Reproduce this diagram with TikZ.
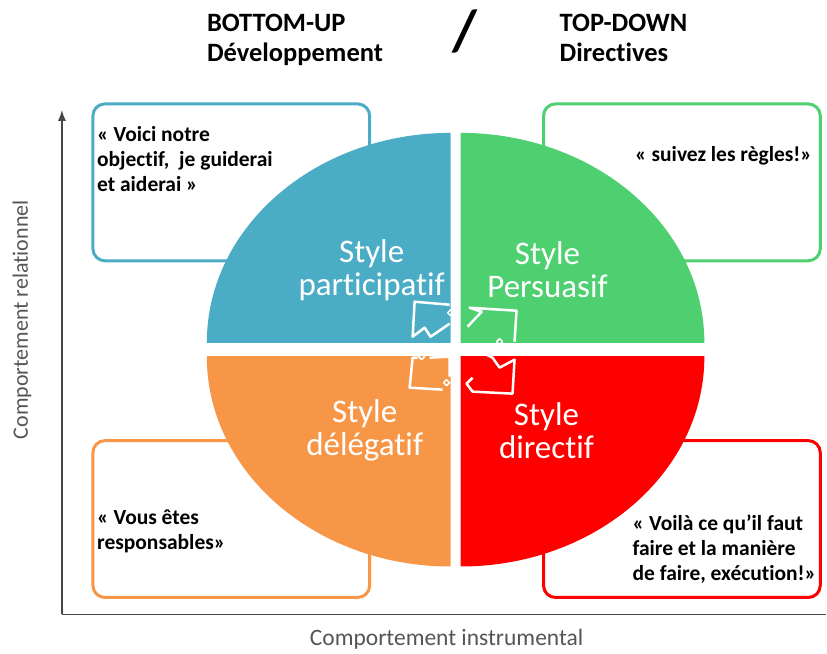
\documentclass[tikz,border=0pt]{standalone}
\usepackage{fontspec}
\setmainfont[Ligatures=CommonOff]{Carlito}
\usetikzlibrary{arrows.meta}
\definecolor{cblue}{RGB}{75,172,198}
\definecolor{cgreen}{RGB}{78,208,113}
\definecolor{corange}{RGB}{247,150,70}
\definecolor{cred}{RGB}{255,0,0}
\definecolor{caxis}{RGB}{70,70,70}
\definecolor{clabel}{RGB}{85,85,85}

\begin{document}
\begin{tikzpicture}[x=1pt, y=-1pt,
		box/.style={draw=#1, line width=3pt, rounded corners=12pt},
		quote/.style={font=\bfseries\fontsize{21.5}{25}\selectfont, align=left, inner sep=0pt},
		title/.style={font=\bfseries\fontsize{26.5}{30}\selectfont, align=left, inner sep=0pt},
		quadlabel/.style={text=white, font=\fontsize{33}{33}\selectfont, align=center},
		axislabel/.style={text=clabel, font=\fontsize{23.5}{24}\selectfont},
		arrowline/.style={white, line width=2.5pt, line join=round}]
		\fill[white] (0,0) rectangle (827,654);
		% axes
		\coordinate (o) at (62,615);
		\coordinate (ytop) at (62,110);
		\coordinate (xend) at (827,615);
		\draw[-{Latex[length=11pt,width=8pt]}, caxis, line width=1.5pt] (o) -- (ytop);
		\draw[caxis, line width=1.5pt] (o) -- (xend);
		\node[axislabel, font=\fontsize{22}{24}\selectfont, rotate=90] (ylab) at (22,320) {Comportement relationnel};
		\node[axislabel] (xlab) at (447,640) {Comportement instrumental};
		
		\foreach \x/\y/\c in {93/104/cblue, 544/104/cgreen, 93/441/corange, 544/441/cred}
			\draw[box=\c] (\x,\y) rectangle ++(277,157);
		
		\foreach \sx/\sy/\c in {-1/-1/cblue, 1/-1/cgreen, -1/1/corange, 1/1/cred} {
			\begin{scope}
				\clip (456+5*\sx,350+7*\sy) rectangle ++(250*\sx,220*\sy);
				\fill[\c] (456+5*\sx,350+7*\sy) ellipse [x radius=244, y radius=210];
			\end{scope}
		}
		
		\node[quadlabel] (part) at (372,270) {Style\\participatif};
		\node[quadlabel] (pers) at (548,270) {Style\\Persuasif};
		\node[quadlabel] (dele) at (365,431) {Style\\délégatif};
		\node[quadlabel] (dire) at (547,431) {Style\\directif};
		
		\draw[arrowline] (450,305) -- (415,302) -- (413,337) -- (425,328) -- (431,337) -- (450,324);
		\draw[arrowline] (468,327) -- (482,312) -- (470,308) -- (517,311) -- (515,342);
		\draw[arrowline] (450,377) -- (450,357) -- (430,358);
		\draw[arrowline] (418,358) -- (413,358) -- (410,388) -- (443,390);
		\draw[arrowline] (487,355) -- (493,358) -- (500,368) -- (515,360) -- (513,394) -- (473,392) -- (467,384) -- (473,378);
		\foreach \x/\y in {451/313, 500/342, 422/357, 447/383}
			\draw[arrowline, line width=1.5pt] (\x-3,\y) -- (\x,\y-3) -- (\x+3,\y) -- (\x,\y+3) -- cycle;
		
		\node[quote, anchor=north west] (qpart) at (97,126) {« Voici notre\\objectif,\ \ je guiderai\\et aiderai »};
		\node[quote, anchor=north east] (qpers) at (813,146) {« suivez les règles!»};
		\node[quote, anchor=north west] (qdele) at (97,510) {« Vous êtes\\responsables»};
		\node[quote, anchor=north west] (qdire) at (633,515) {« Voilà ce qu’il faut\\faire et la manière\\de faire, exécution!»};
		
		\node[title, anchor=north west] (bu) at (207,14) {BOTTOM-UP\\Développement};
		\node[title, anchor=north west] (td) at (560,14) {TOP-DOWN\\Directives};
		\node[font=\bfseries\fontsize{58}{58}\selectfont] (slash) at (465,32) {/};
\end{tikzpicture}
\end{document}
